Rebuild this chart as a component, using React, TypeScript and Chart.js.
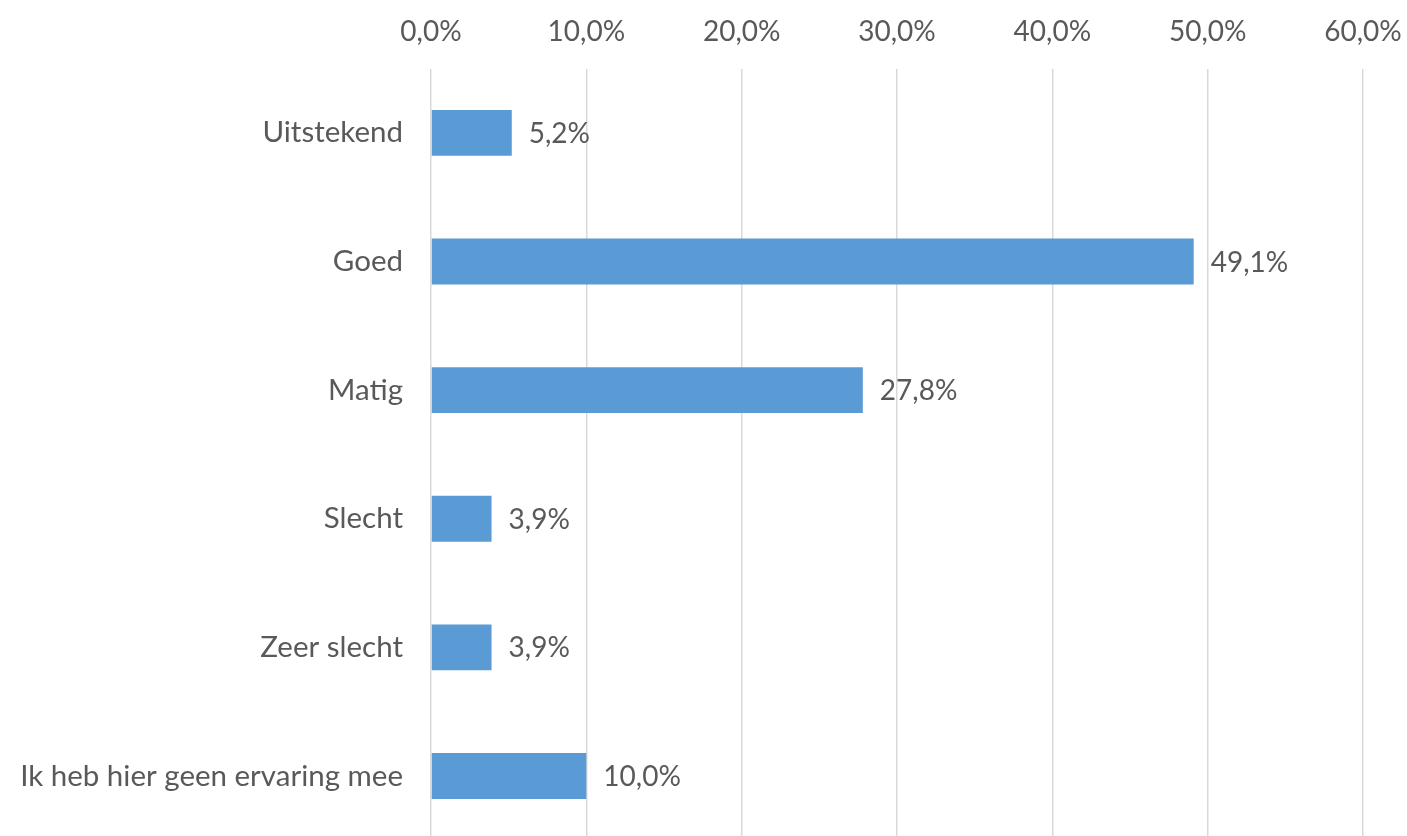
import React, { useEffect, useRef } from "react";
import { Chart, registerables } from "chart.js";

Chart.register(...registerables);

const categories = [
  "Uitstekend",
  "Goed",
  "Matig",
  "Slecht",
  "Zeer slecht",
  "Ik heb hier geen ervaring mee",
];
const values = [5.2, 49.1, 27.8, 3.9, 3.9, 10.0];
const tickValues = [0, 10, 20, 30, 40, 50, 60];

const FONT = "Lato, 'Open Sans', sans-serif";
const TEXT = "#595959";
const fmt = (v: number) => v.toFixed(1).replace(".", ",") + "%";

const labelPlugin = {
  id: "valueLabels",
  afterDatasetsDraw(chart: any) {
    const ctx = chart.ctx;
    const meta = chart.getDatasetMeta(0);
    ctx.save();
    ctx.font = `28px ${FONT}`;
    ctx.fillStyle = TEXT;
    ctx.textAlign = "left";
    ctx.textBaseline = "middle";
    meta.data.forEach((bar: any, i: number) => {
      ctx.fillText(fmt(values[i]), bar.x + 17, bar.y + 1);
    });
    ctx.restore();
  },
};

export default function App() {
  const ref = useRef<HTMLCanvasElement | null>(null);
  useEffect(() => {
    if (!ref.current) return;
    const chart = new Chart(ref.current, {
      type: "bar",
      data: {
        labels: categories,
        datasets: [
          {
            data: values,
            backgroundColor: "#5B9BD5",
            borderWidth: 0,
            categoryPercentage: 1,
            barPercentage: 0.357,
          },
        ],
      },
      options: {
        indexAxis: "y",
        animation: false,
        responsive: false,
        maintainAspectRatio: false,
        layout: { padding: { top: 12, right: 44, bottom: 0, left: 0 } },
        plugins: {
          legend: { display: false },
          tooltip: { enabled: false },
        },
        scales: {
          x: {
            position: "top",
            min: 0,
            max: 60,
            afterBuildTicks: (scale: any) => {
              scale.ticks = tickValues.map((v) => ({ value: v }));
            },
            afterFit: (scale: any) => {
              scale.paddingRight = 0;
              scale.paddingLeft = 0;
            },
            ticks: {
              callback: (v: any) => fmt(Number(v)),
              color: TEXT,
              font: { family: FONT, size: 28 },
              padding: 20,
              maxRotation: 0,
            },
            grid: { color: "#D9D9D9", lineWidth: 1.5, drawTicks: false },
            border: { display: false },
          },
          y: {
            afterFit: (scale: any) => {
              scale.width = 431;
            },
            ticks: {
              color: TEXT,
              font: { family: FONT, size: 29.5 },
              padding: 28,
            },
            grid: { display: false, drawTicks: false },
            border: { display: false },
          },
        },
      },
      plugins: [labelPlugin],
    });
    return () => chart.destroy();
  }, []);
  return (
    <div
      style={{
        position: "fixed",
        left: 0,
        top: 0,
        width: 1407,
        height: 836,
        overflow: "hidden",
        background: "#fff",
      }}
    >
      <canvas
        ref={ref}
        width={1407}
        height={903}
        style={{ display: "block", position: "absolute", left: 0, top: -17 }}
      />
    </div>
  );
}
